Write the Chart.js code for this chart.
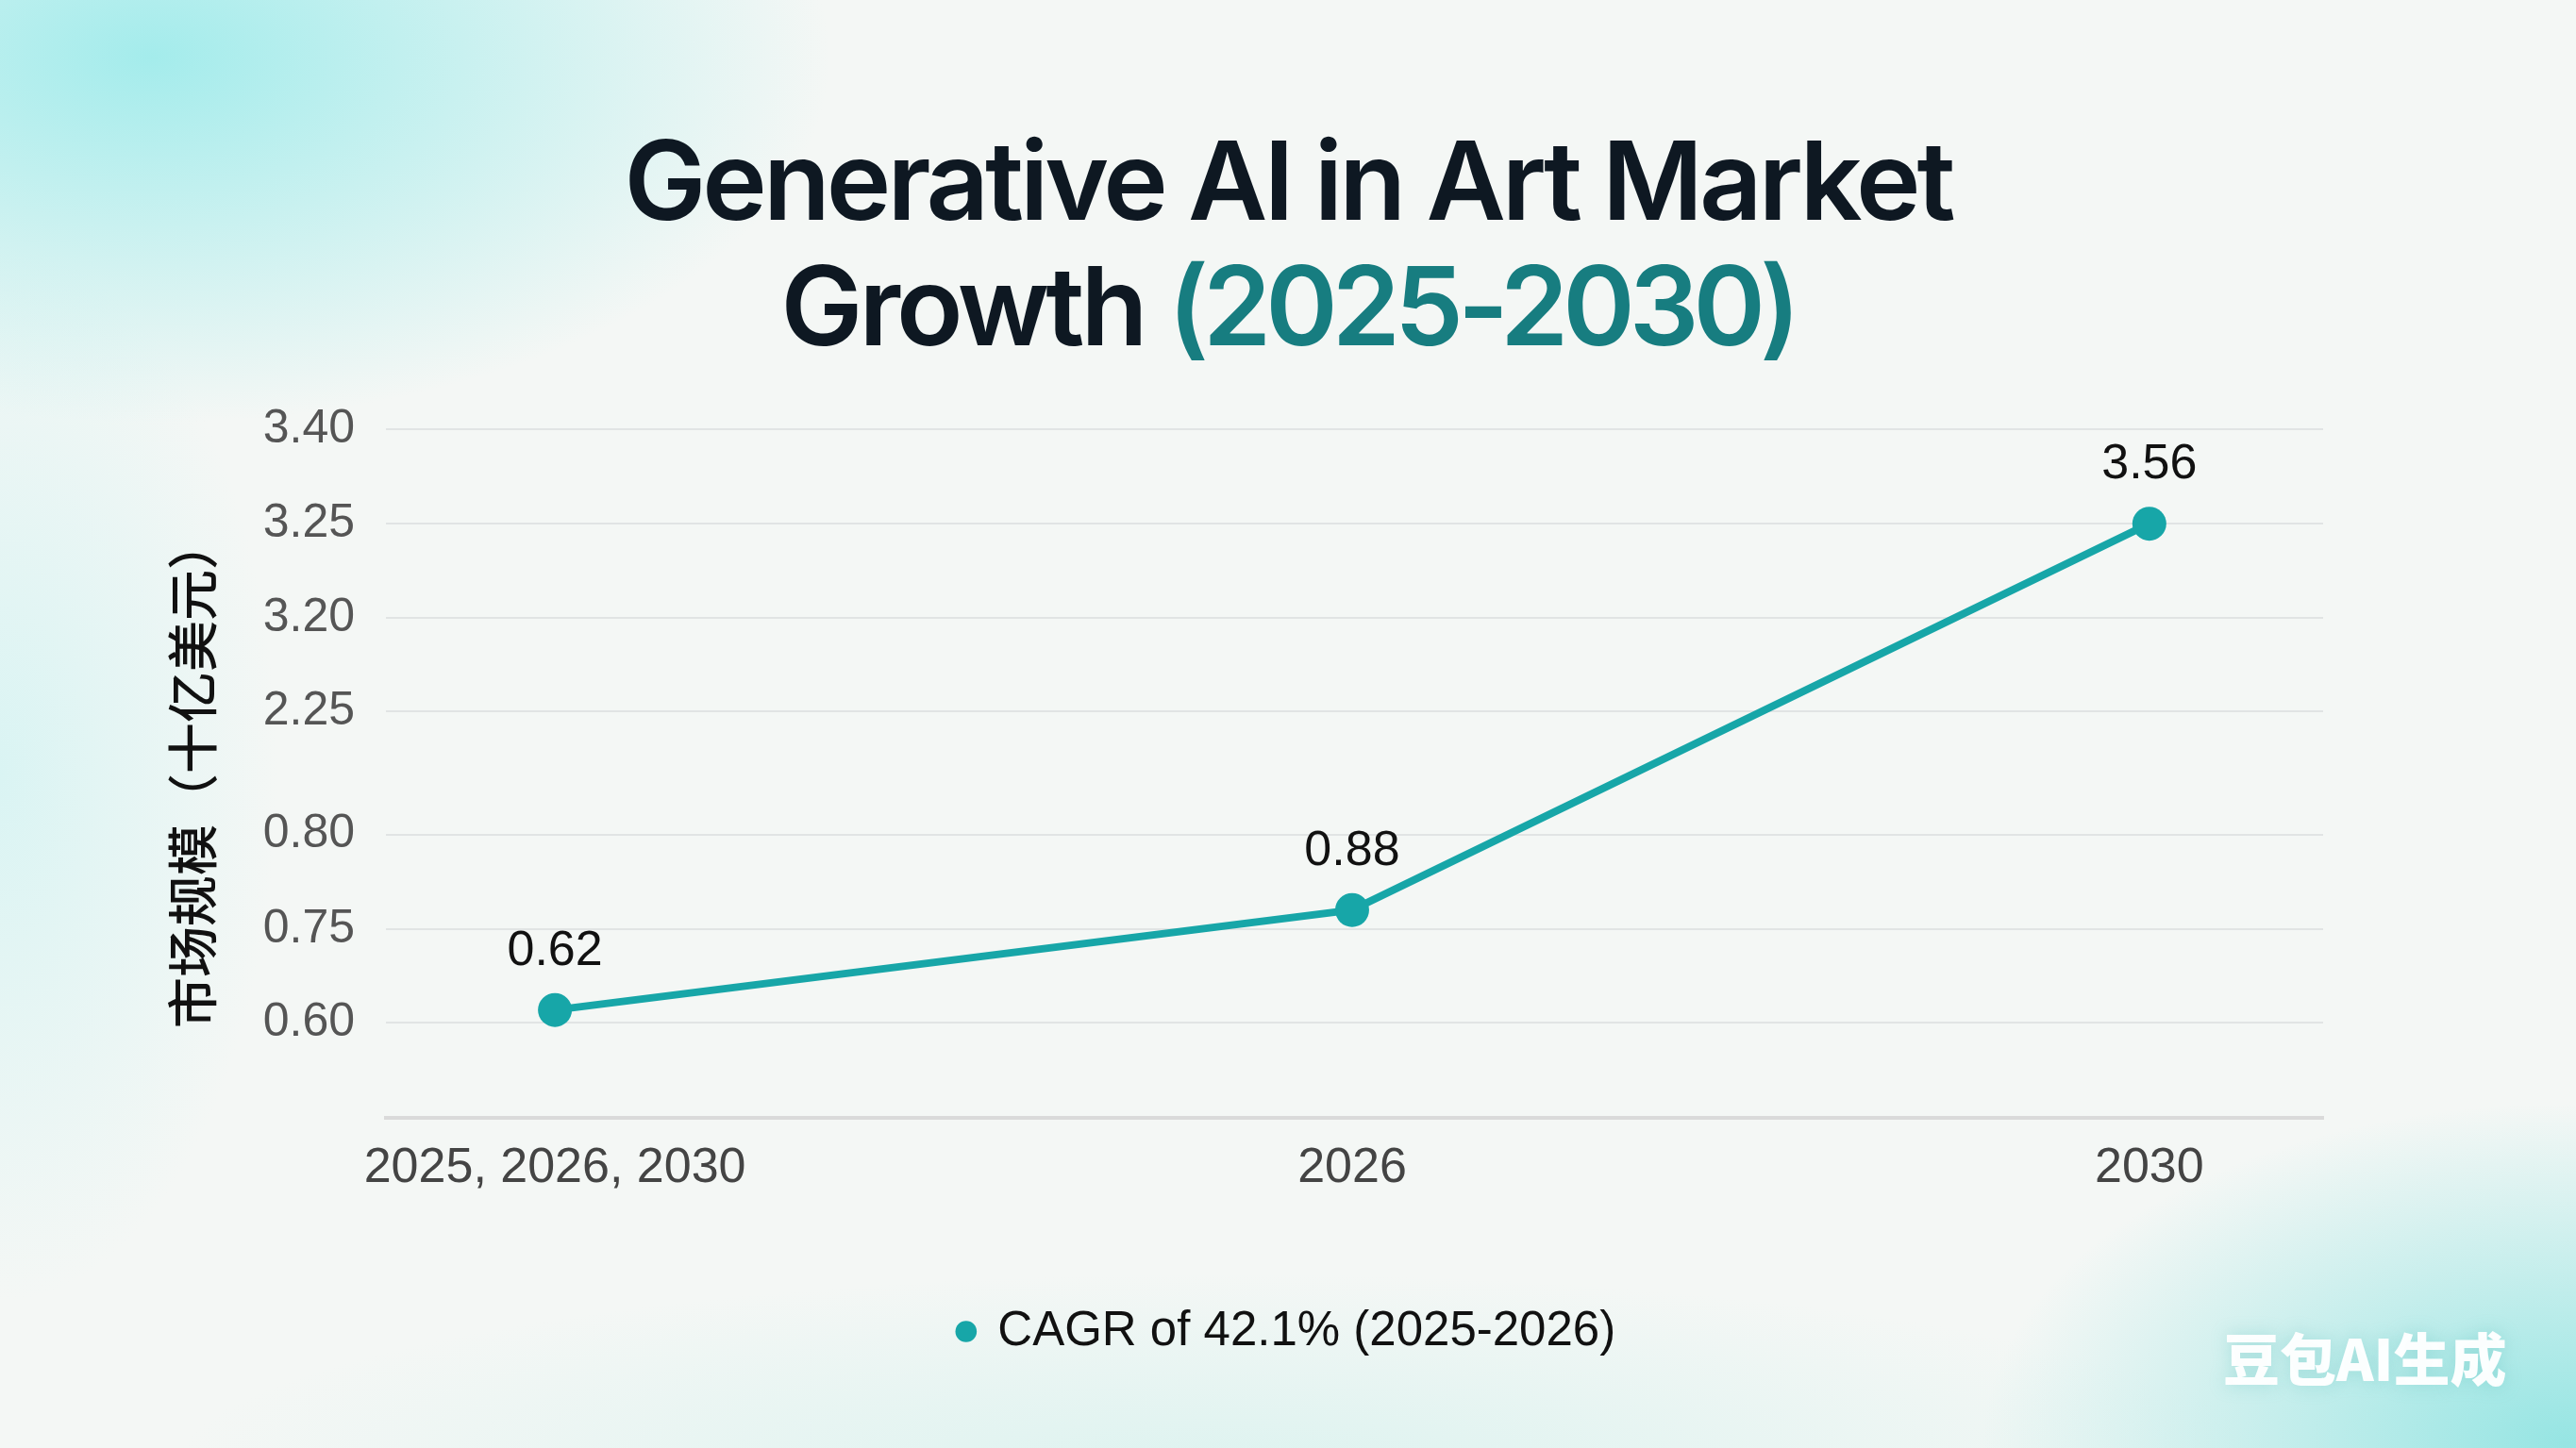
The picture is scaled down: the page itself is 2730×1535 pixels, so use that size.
<!DOCTYPE html>
<html>
<head>
<meta charset="utf-8">
<script src="https://cdn.jsdelivr.net/npm/chart.js@4.4.1/dist/chart.umd.min.js"></script>
<style>
    html, body {
        margin: 0;
        padding: 0;
        width: 2730px;
        height: 1535px;
        overflow: hidden;
    }
    body {
        background:
            radial-gradient(ellipse 1000px 540px at 160px 60px, rgba(150, 234, 234, 0.85), rgba(150, 234, 234, 0) 72%),
            radial-gradient(ellipse 420px 800px at 0px 820px, rgba(200, 242, 242, 0.6), rgba(200, 242, 242, 0) 70%),
            radial-gradient(ellipse 860px 500px at 2720px 1530px, rgba(145, 228, 226, 0.95), rgba(145, 228, 226, 0) 72%),
            radial-gradient(ellipse 1600px 300px at 1300px 1560px, rgba(205, 240, 236, 0.6), rgba(205, 240, 236, 0) 70%),
            #f4f7f5;
    }
    #wrap {
        position: relative;
        width: 2730px;
        height: 1535px;
    }
    #title {
        position: absolute;
        left: 0;
        top: 125px;
        width: 2730px;
        text-align: center;
        font-family: Inter, "Noto Sans", sans-serif;
        font-weight: 600;
        font-size: 116px;
        line-height: 133px;
        letter-spacing: -4px;
        color: #0e1822;
    }
    #title span { color: #177d80; letter-spacing: -6px; }
    canvas {
        position: absolute;
        left: 0;
        top: 0;
    }
    #mark {
        position: absolute;
        left: 2356px;
        top: 1400px;
        font-family: "Noto Sans CJK SC", sans-serif;
        font-weight: 900;
        font-size: 60px;
        line-height: 76px;
        color: rgba(255, 255, 255, 0.96);
        text-shadow: 0 0 18px rgba(90, 190, 185, 0.35);
    }
</style>
</head>
<body>
<div id="wrap">
    <canvas id="chart" width="2730" height="1535"></canvas>
    <div id="title">Generative AI in Art Market<br>Growth <span>(2025-2030)</span></div>
    <div id="mark">豆包AI生成</div>
</div>
<script>
// data
const categories = ['2025, 2026, 2030', '2026', '2030'];
const marketSize = [0.62, 0.76, 3.25];        // where the points sit against the axis
const valueLabels = ['0.62', '0.88', '3.56']; // the numbers printed above them
const yTickValues = [0.60, 0.75, 0.80, 2.25, 3.20, 3.25, 3.40];
const seriesLabel = 'CAGR of 42.1% (2025-2026)';
const axisTitle = '市场规模（十亿美元）';

// the axis is not linear: each tick sits on its own row, with a wider gap after 0.80
const tickRows = [1.01, 2.0, 3.0, 4.3, 5.29, 6.29, 7.29];

const teal = '#17a6a8';
const labelFont = '"Liberation Sans", Arial, sans-serif';

class BrokenScale extends Chart.LinearScale {
    determineDataLimits() {
        this.min = 0;
        this.max = tickRows[tickRows.length - 1];
    }
    buildTicks() {
        return yTickValues.map(v => ({ value: v }));
    }
    toRow(v) {
        let i = 0;
        while (i < yTickValues.length - 2 && v > yTickValues[i + 1]) i++;
        const t = (v - yTickValues[i]) / (yTickValues[i + 1] - yTickValues[i]);
        return tickRows[i] + t * (tickRows[i + 1] - tickRows[i]);
    }
    getPixelForValue(v) {
        return super.getPixelForValue(this.toRow(v));
    }
    getValueForPixel(p) {
        const row = super.getValueForPixel(p);
        let i = 0;
        while (i < tickRows.length - 2 && row > tickRows[i + 1]) i++;
        const t = (row - tickRows[i]) / (tickRows[i + 1] - tickRows[i]);
        return yTickValues[i] + t * (yTickValues[i + 1] - yTickValues[i]);
    }
}
BrokenScale.id = 'broken';
BrokenScale.defaults = {};
Chart.register(BrokenScale);

// numbers above the points
const valueLabelPlugin = {
    id: 'valueLabels',
    afterDatasetsDraw(chart) {
        const ctx = chart.ctx;
        const meta = chart.getDatasetMeta(0);
        ctx.save();
        ctx.font = '52px ' + labelFont;
        ctx.fillStyle = '#111111';
        ctx.textAlign = 'center';
        ctx.textBaseline = 'alphabetic';
        meta.data.forEach((pt, i) => {
            ctx.fillText(valueLabels[i], pt.x, pt.y - 48);
        });
        ctx.restore();
    }
};

document.addEventListener('DOMContentLoaded', function() {
    const ctx = document.getElementById('chart').getContext('2d');

    new Chart(ctx, {
        type: 'line',
        data: {
            datasets: [{
                label: seriesLabel,
                data: marketSize.map((v, i) => ({ x: i, y: v })),
                borderColor: teal,
                backgroundColor: teal,
                borderWidth: 8,
                pointRadius: 18,
                pointHoverRadius: 18,
                pointBackgroundColor: teal,
                pointBorderWidth: 0,
                tension: 0
            }]
        },
        options: {
            responsive: false,
            animation: false,
            layout: {
                // left == right so the legend centres where the reference has it
                padding: { top: 455, left: 266, right: 268, bottom: 88 }
            },
            plugins: {
                tooltip: { enabled: false },
                legend: {
                    position: 'bottom',
                    labels: {
                        usePointStyle: true,
                        pointStyle: 'circle',
                        boxWidth: 16,
                        boxHeight: 16,
                        padding: 10,
                        color: '#111111',
                        font: { family: labelFont, size: 51 }
                    }
                }
            },
            scales: {
                x: {
                    type: 'linear',
                    min: -0.212,
                    max: 2.218,
                    afterBuildTicks: s => { s.ticks = categories.map((c, i) => ({ value: i })); },
                    afterFit: s => { s.height = 191; },
                    grid: { display: false, drawTicks: false },
                    border: { display: true, color: '#dadada', width: 4 },
                    ticks: {
                        padding: 22,
                        maxRotation: 0,
                        autoSkip: false,
                        color: '#444444',
                        font: { family: labelFont, size: 52 },
                        callback: v => categories[v]
                    }
                },
                y: {
                    type: 'broken',
                    afterFit: s => { s.width = 143; },
                    grid: { color: '#e1e4e4', lineWidth: 2, drawTicks: false },
                    border: { display: false },
                    ticks: {
                        padding: 33,
                        color: '#555555',
                        font: { family: labelFont, size: 50 },
                        callback: v => v.toFixed(2)
                    },
                    title: {
                        display: true,
                        text: axisTitle,
                        color: '#111111',
                        // title sits left of the narrow axis box
                        padding: { top: -94, bottom: 0 },
                        font: { family: '"Noto Sans CJK SC", sans-serif', size: 54, weight: '500' }
                    }
                }
            }
        },
        plugins: [valueLabelPlugin]
    });
});
</script>
</body>
</html>
